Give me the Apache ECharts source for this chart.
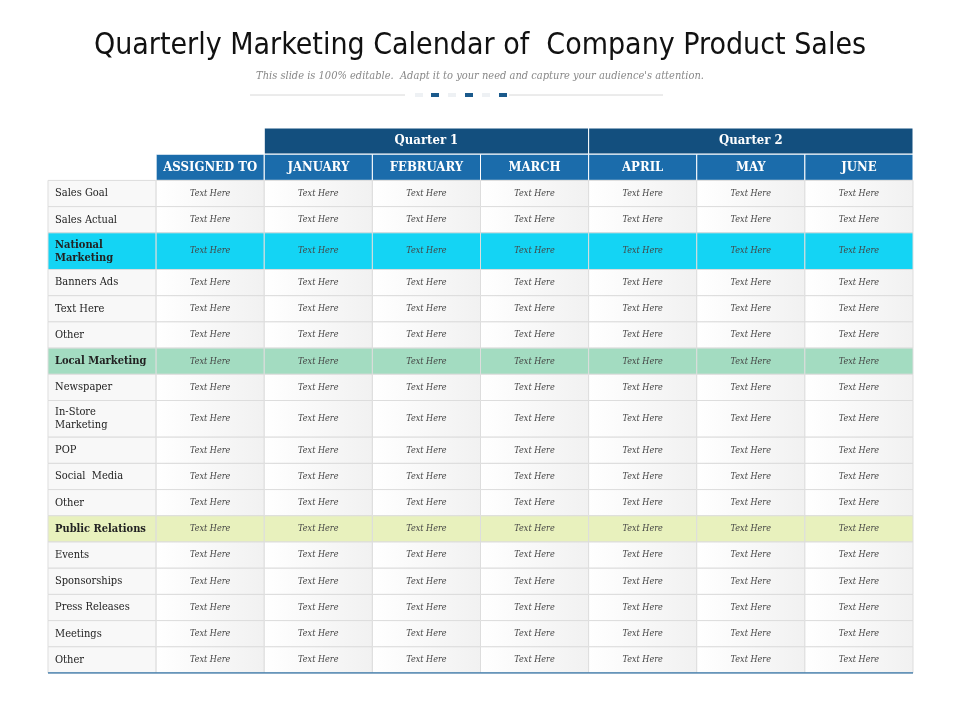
<!DOCTYPE html>
<html>
<head>
<meta charset="utf-8">
<script src="https://cdn.jsdelivr.net/npm/echarts@6/dist/echarts.min.js"></script>
<style>html,body{margin:0;background:#fff}#main{width:960px;height:720px}</style>
</head>
<body>
<div id="main"></div>
<script>
// table content
var quarters = ['Quarter 1', 'Quarter 2'];
var columns = ['ASSIGNED TO', 'JANUARY', 'FEBRUARY', 'MARCH', 'APRIL', 'MAY', 'JUNE'];
var rowLabels = ['Sales Goal', 'Sales Actual', 'National\nMarketing', 'Banners Ads', 'Text Here', 'Other',
    'Local Marketing', 'Newspaper', 'In-Store\nMarketing', 'POP', 'Social  Media', 'Other',
    'Public Relations', 'Events', 'Sponsorships', 'Press Releases', 'Meetings', 'Other'];
var sectionRows = {2: '#14d4f4', 6: '#a3dcc1', 12: '#e8f1bd'};
var cellText = 'Text Here';

// build row extents (units) from the labels
var rows = [], y = 2;
rowLabels.forEach(function (l, i) {
    var h = l.indexOf('\n') >= 0 ? 1.4 : 1;
    rows.push([i, y, y + h]);
    y += h;
});
var total = y;

var serif = '"DejaVu Serif Condensed", "DejaVu Serif", serif';
var chart = echarts.init(document.getElementById('main'));

function renderHeader(params, api) {
    var kids = [];
    quarters.forEach(function (q, i) {
        var a = api.coord([2 + i * 3, 0]), b = api.coord([5 + i * 3, 1]);
        kids.push({type: 'rect', shape: {x: a[0], y: a[1], width: b[0] - a[0], height: b[1] - a[1]},
            style: {fill: '#134f7e', stroke: '#ffffff', lineWidth: 1}});
        kids.push({type: 'text', style: {x: (a[0] + b[0]) / 2, y: (a[1] + b[1]) / 2, text: q,
            fill: '#fff', font: 'bold 13px ' + serif, align: 'center', verticalAlign: 'middle'}});
    });
    columns.forEach(function (c, i) {
        var a = api.coord([i + 1, 1]), b = api.coord([i + 2, 2]);
        kids.push({type: 'rect', shape: {x: a[0], y: a[1], width: b[0] - a[0], height: b[1] - a[1]},
            style: {fill: '#1b6cab', stroke: '#ffffff', lineWidth: 1}});
        kids.push({type: 'text', style: {x: (a[0] + b[0]) / 2, y: (a[1] + b[1]) / 2, text: c,
            fill: '#fff', font: 'bold 13px ' + serif, align: 'center', verticalAlign: 'middle'}});
    });
    return {type: 'group', children: kids};
}

function renderRow(params, api) {
    var idx = api.value(0), y0 = api.value(1), y1 = api.value(2);
    var fill = sectionRows[idx];
    var kids = [];
    for (var c = 0; c < 8; c++) {
        var a = api.coord([c, y0]), b = api.coord([c + 1, y1]);
        var f = fill || (c === 0 ? '#f8f8f8' : {type: 'linear', x: 0, y: 0, x2: 1, y2: 0,
            colorStops: [{offset: 0, color: '#ffffff'}, {offset: 1, color: '#f1f1f1'}]});
        kids.push({type: 'rect', shape: {x: a[0], y: a[1], width: b[0] - a[0], height: b[1] - a[1]},
            style: {fill: f, stroke: '#dddddd', lineWidth: 1}});
        kids.push({type: 'text', style: {
            x: c === 0 ? a[0] + 7 : (a[0] + b[0]) / 2, y: (a[1] + b[1]) / 2,
            text: c === 0 ? rowLabels[idx] : cellText,
            fill: c === 0 ? '#222' : '#444',
            font: c === 0 ? ((fill ? 'bold ' : '') + '11px ' + serif) : 'italic 9px ' + serif,
            lineHeight: 13,
            align: c === 0 ? 'left' : 'center', verticalAlign: 'middle'}});
    }
    return {type: 'group', children: kids};
}

var marks = [];
[415, 431, 448, 465, 482, 499].forEach(function (x, i) {
    marks.push({type: 'rect', shape: {x: x, y: 93, width: 8, height: 4},
        style: {fill: i % 2 ? '#1b5a8c' : '#eef1f4'}});
});

chart.setOption({
    animation: false,
    title: {
        text: 'Quarterly Marketing Calendar of  Company Product Sales',
        subtext: "This slide is 100% editable.  Adapt it to your need and capture your audience's attention.",
        left: 'center', top: 26, itemGap: 10,
        textStyle: {fontFamily: '"Liberation Sans Narrow", "DejaVu Sans Condensed"', fontWeight: 'normal', fontSize: 30, color: '#111'},
        subtextStyle: {fontFamily: serif, fontStyle: 'italic', fontSize: 11, color: '#888'}
    },
    graphic: [{type: 'line', shape: {x1: 250, y1: 95, x2: 663, y2: 95}, style: {stroke: '#d8d8d8', lineWidth: 1}},
        {type: 'rect', shape: {x: 405, y: 90, width: 104, height: 10}, style: {fill: '#fff'}}].concat(marks),
    grid: {left: 48, right: 47, top: 128, bottom: 47},
    xAxis: {type: 'value', min: 0, max: 8, show: false},
    yAxis: {type: 'value', min: 0, max: total, inverse: true, show: false},
    series: [
        {type: 'custom', renderItem: renderHeader, data: [[0, 0]], silent: true},
        {type: 'custom', renderItem: renderRow, data: rows, silent: true},
        {type: 'line', data: [[0, total], [8, total]], symbol: 'none', silent: true,
            lineStyle: {color: '#3a78aa', width: 1.5}}
    ]
});
</script>
</body>
</html>
